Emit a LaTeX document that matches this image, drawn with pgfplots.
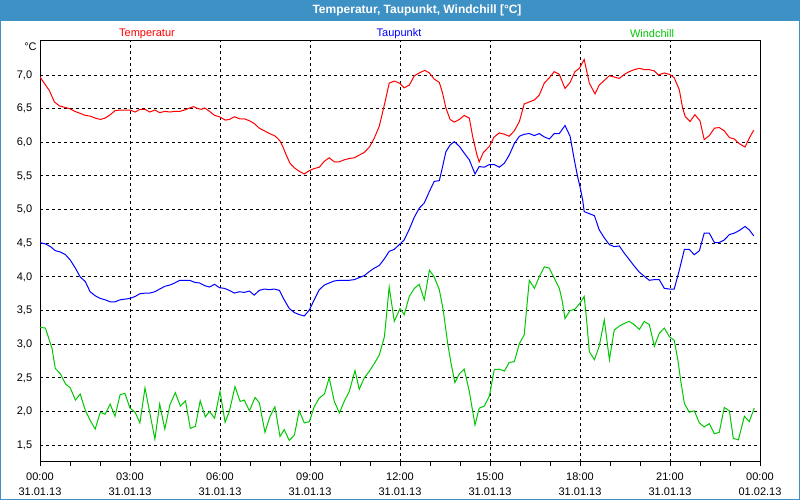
\documentclass[border=0pt]{standalone}
\usepackage{pgfplots}
\pgfplotsset{compat=1.18}
\usepackage{fontspec}
\setmainfont{Liberation Sans}
\definecolor{barblue}{RGB}{61,145,196}
\definecolor{tcol}{RGB}{255,0,0}
\definecolor{dcol}{RGB}{0,0,255}
\definecolor{wcol}{RGB}{0,200,0}
\begin{document}
\fontsize{11}{13}\selectfont
\begin{tikzpicture}[x=1pt,y=1pt]
% window frame and title bar
\fill[white] (0,0) rectangle (800,500);
\fill[barblue] (0,479.3) rectangle (800,500);
\draw[barblue, line width=1pt] (0.5,0.5) rectangle (799.5,499.5);
\node[white, font=\bfseries\fontsize{12}{14}\selectfont] at (417,489.5) {Temperatur, Taupunkt, Windchill [°C]};
% series names
\node[tcol] at (147,466.5) {Temperatur};
\node[dcol] at (399,466.5) {Taupunkt};
\node[wcol] at (652,466.5) {Windchill};
\node at (30.5,453.5) {°C};

\begin{axis}[
  at={(40pt,38pt)}, anchor=south west,
  width=720pt, height=421.3pt, scale only axis,
  xmin=0, xmax=24, ymin=1.25, ymax=7.51,
  xtick={0,3,...,24},
  xticklabels={{00:00\\31.01.13},{03:00\\31.01.13},{06:00\\31.01.13},{09:00\\31.01.13},{12:00\\31.01.13},{15:00\\31.01.13},{18:00\\31.01.13},{21:00\\31.01.13},{00:00\\01.02.13}},
  minor x tick num=2,
  ytick={1.5,2,...,7},
  /pgf/number format/fixed,
  /pgf/number format/fixed zerofill,
  /pgf/number format/precision=1,
  /pgf/number format/use comma,
  /pgf/number format/assume math mode=true,
  xmajorgrids, ymajorgrids,
  major grid style={black, dash pattern=on 3pt off 3pt, line width=1pt},
  axis line style={black, line width=1pt},
  tick align=outside, xtick pos=left,
  major tick length=4pt, minor tick length=4pt,
  xtick style={black, line width=1pt},
  ytick style={draw=none},
  tick label style={font=\fontsize{11}{15}\selectfont, text=black},
  xticklabel style={align=center, yshift=-2.5pt},
  every axis plot/.append style={line width=1pt, mark=none},
]
% Temperatur
\addplot[tcol] coordinates {
(0,6.97) (0.14,6.88) (0.31,6.77) (0.48,6.60) (0.65,6.54) (0.82,6.52) (0.99,6.50) (1.16,6.46) (1.34,6.43) (1.51,6.40) (1.67,6.39) (1.84,6.36) (2.01,6.34) (2.17,6.36) (2.34,6.41) (2.50,6.47) (2.67,6.48) (3.0,6.48) (3.17,6.45) (3.33,6.49) (3.50,6.49) (3.66,6.45) (3.83,6.48) (3.99,6.44) (4.16,6.46) (4.33,6.45) (4.49,6.46) (4.66,6.46) (4.82,6.48) (4.99,6.51) (5.12,6.53) (5.27,6.50) (5.38,6.49) (5.49,6.51) (5.65,6.46) (5.82,6.40) (5.98,6.38) (6.18,6.33) (6.31,6.34) (6.48,6.38) (6.65,6.35) (6.81,6.35) (6.98,6.32) (7.14,6.28) (7.31,6.21) (7.48,6.17) (7.65,6.13) (7.81,6.10) (7.92,6.06) (8.0,6.02) (8.09,5.94) (8.2,5.82) (8.33,5.69) (8.48,5.62) (8.64,5.57) (8.81,5.53) (8.98,5.58) (9.14,5.61) (9.31,5.63) (9.48,5.72) (9.64,5.77) (9.81,5.71) (9.98,5.71) (10.14,5.74) (10.31,5.76) (10.48,5.77) (10.64,5.81) (10.81,5.85) (10.98,5.93) (11.14,6.06) (11.31,6.24) (11.48,6.56) (11.64,6.88) (11.81,6.91) (11.98,6.88) (12.14,6.81) (12.31,6.85) (12.48,6.99) (12.64,7.03) (12.83,7.07) (12.98,7.03) (13.14,6.94) (13.31,6.89) (13.42,6.73) (13.53,6.51) (13.67,6.34) (13.81,6.30) (13.98,6.34) (14.14,6.40) (14.31,6.36) (14.42,6.09) (14.56,5.82) (14.64,5.71) (14.78,5.85) (14.98,5.94) (15.14,6.08) (15.31,6.14) (15.48,6.12) (15.64,6.09) (15.81,6.17) (15.98,6.31) (16.14,6.57) (16.31,6.60) (16.48,6.63) (16.64,6.70) (16.81,6.88) (16.98,6.96) (17.14,7.05) (17.31,7.01) (17.5,6.80) (17.67,6.89) (17.83,7.05) (17.98,7.10) (18.14,7.23) (18.31,6.88) (18.5,6.72) (18.64,6.85) (18.81,6.92) (18.98,6.99) (19.14,6.97) (19.31,6.95) (19.48,7.01) (19.64,7.05) (19.81,7.08) (19.98,7.10) (20.14,7.08) (20.31,7.08) (20.48,7.06) (20.61,7.0) (20.81,7.03) (20.98,7.01) (21.14,6.96) (21.31,6.78) (21.42,6.51) (21.51,6.38) (21.67,6.31) (21.83,6.41) (22.0,6.32) (22.14,6.04) (22.31,6.10) (22.48,6.21) (22.64,6.22) (22.81,6.17) (22.98,6.07) (23.14,6.05) (23.31,5.98) (23.5,5.93) (23.64,6.06) (23.79,6.18)
};
% Taupunkt
\addplot[dcol] coordinates {
(0,4.51) (0.18,4.49) (0.35,4.45) (0.51,4.39) (0.68,4.37) (0.85,4.33) (1.01,4.25) (1.18,4.13) (1.34,4.0) (1.51,3.93) (1.67,3.78) (1.84,3.72) (2.01,3.68) (2.17,3.66) (2.34,3.63) (2.50,3.63) (2.67,3.66) (2.83,3.67) (3.0,3.68) (3.17,3.71) (3.33,3.75) (3.50,3.76) (3.66,3.76) (3.83,3.78) (3.99,3.82) (4.16,3.86) (4.33,3.88) (4.49,3.91) (4.66,3.95) (4.82,3.95) (4.99,3.95) (5.15,3.92) (5.32,3.91) (5.49,3.87) (5.65,3.85) (5.82,3.89) (5.98,3.84) (6.15,3.83) (6.31,3.80) (6.48,3.76) (6.65,3.78) (6.81,3.77) (6.98,3.79) (7.14,3.73) (7.31,3.80) (7.48,3.82) (7.65,3.81) (7.81,3.82) (7.98,3.80) (8.14,3.66) (8.31,3.53) (8.48,3.47) (8.64,3.44) (8.81,3.42) (8.98,3.51) (9.14,3.66) (9.31,3.81) (9.48,3.88) (9.64,3.91) (9.81,3.94) (9.98,3.95) (10.14,3.95) (10.31,3.95) (10.48,3.96) (10.64,3.99) (10.81,4.02) (10.98,4.08) (11.14,4.13) (11.31,4.17) (11.48,4.27) (11.64,4.38) (11.81,4.41) (12.0,4.49) (12.14,4.55) (12.31,4.71) (12.48,4.89) (12.64,5.02) (12.81,5.10) (12.98,5.27) (13.14,5.42) (13.31,5.43) (13.42,5.64) (13.53,5.86) (13.67,5.96) (13.81,6.01) (13.98,5.94) (14.14,5.84) (14.31,5.74) (14.5,5.53) (14.64,5.64) (14.81,5.63) (14.98,5.67) (15.14,5.67) (15.31,5.63) (15.48,5.69) (15.64,5.81) (15.81,5.98) (15.98,6.09) (16.14,6.12) (16.31,6.13) (16.48,6.10) (16.64,6.13) (16.81,6.08) (16.98,6.05) (17.14,6.13) (17.31,6.13) (17.5,6.25) (17.67,6.09) (17.81,5.74) (17.92,5.49) (18.0,5.34) (18.09,5.14) (18.14,4.97) (18.31,4.94) (18.48,4.91) (18.64,4.70) (18.81,4.58) (18.98,4.48) (19.14,4.45) (19.31,4.46) (19.48,4.35) (19.64,4.26) (19.81,4.16) (19.98,4.07) (20.14,4.01) (20.31,3.95) (20.48,3.96) (20.64,3.96) (20.81,3.83) (20.98,3.82) (21.14,3.82) (21.31,4.10) (21.48,4.41) (21.64,4.41) (21.81,4.33) (21.98,4.39) (22.14,4.65) (22.31,4.65) (22.48,4.51) (22.64,4.51) (22.81,4.55) (22.98,4.63) (23.14,4.65) (23.31,4.69) (23.5,4.75) (23.64,4.70) (23.79,4.61)
};
% Windchill
\addplot[wcol] coordinates {
(0,3.25) (0.18,3.24) (0.29,3.09) (0.40,2.94) (0.51,2.64) (0.68,2.56) (0.85,2.41) (1.01,2.35) (1.18,2.17) (1.34,2.26) (1.51,2.02) (1.67,1.87) (1.84,1.74) (2.01,1.99) (2.17,1.96) (2.34,2.11) (2.50,1.93) (2.67,2.25) (2.83,2.27) (3.0,2.05) (3.17,1.99) (3.33,1.83) (3.50,2.35) (3.66,1.98) (3.83,1.59) (3.99,2.11) (4.16,1.74) (4.33,2.10) (4.51,2.28) (4.68,2.08) (4.85,2.16) (5.01,1.75) (5.18,1.78) (5.34,2.16) (5.51,1.92) (5.65,2.0) (5.82,1.90) (6.0,2.30) (6.17,1.84) (6.31,2.0) (6.50,2.37) (6.67,2.15) (6.81,2.17) (6.98,2.01) (7.17,2.21) (7.31,2.13) (7.50,1.69) (7.66,1.92) (7.83,2.07) (8.0,1.63) (8.14,1.73) (8.31,1.57) (8.48,1.65) (8.64,2.01) (8.81,1.83) (8.98,1.85) (9.14,2.07) (9.31,2.20) (9.48,2.26) (9.64,2.50) (9.81,2.15) (9.98,1.98) (10.14,2.15) (10.31,2.30) (10.5,2.61) (10.64,2.33) (10.81,2.50) (10.98,2.60) (11.14,2.71) (11.31,2.84) (11.48,3.11) (11.64,3.85) (11.81,3.34) (12.0,3.53) (12.14,3.44) (12.31,3.71) (12.48,3.83) (12.64,3.89) (12.81,3.66) (12.98,4.10) (13.14,4.0) (13.31,3.81) (13.44,3.51) (13.59,3.01) (13.7,2.72) (13.83,2.43) (13.98,2.56) (14.14,2.63) (14.31,2.30) (14.5,1.80) (14.64,2.05) (14.81,2.08) (14.98,2.23) (15.14,2.62) (15.31,2.63) (15.48,2.60) (15.64,2.73) (15.81,2.74) (15.98,3.01) (16.14,3.14) (16.31,3.95) (16.48,3.83) (16.64,4.0) (16.81,4.15) (16.98,4.13) (17.14,3.98) (17.31,3.83) (17.4,3.66) (17.5,3.38) (17.67,3.50) (17.83,3.52) (18.0,3.61) (18.14,3.71) (18.22,3.36) (18.31,2.89) (18.48,2.77) (18.64,2.97) (18.81,3.36) (18.98,2.77) (19.14,3.21) (19.31,3.27) (19.48,3.31) (19.64,3.34) (19.81,3.29) (19.98,3.22) (20.14,3.34) (20.31,3.29) (20.48,2.97) (20.64,3.16) (20.81,3.24) (20.98,3.11) (21.14,3.06) (21.26,2.77) (21.37,2.42) (21.48,2.12) (21.64,1.99) (21.81,2.01) (21.98,1.83) (22.14,1.77) (22.31,1.82) (22.48,1.67) (22.64,1.69) (22.81,2.06) (22.98,2.01) (23.11,1.60) (23.28,1.58) (23.48,1.93) (23.64,1.85) (23.81,2.05)
};
\end{axis}
\end{tikzpicture}
\end{document}
